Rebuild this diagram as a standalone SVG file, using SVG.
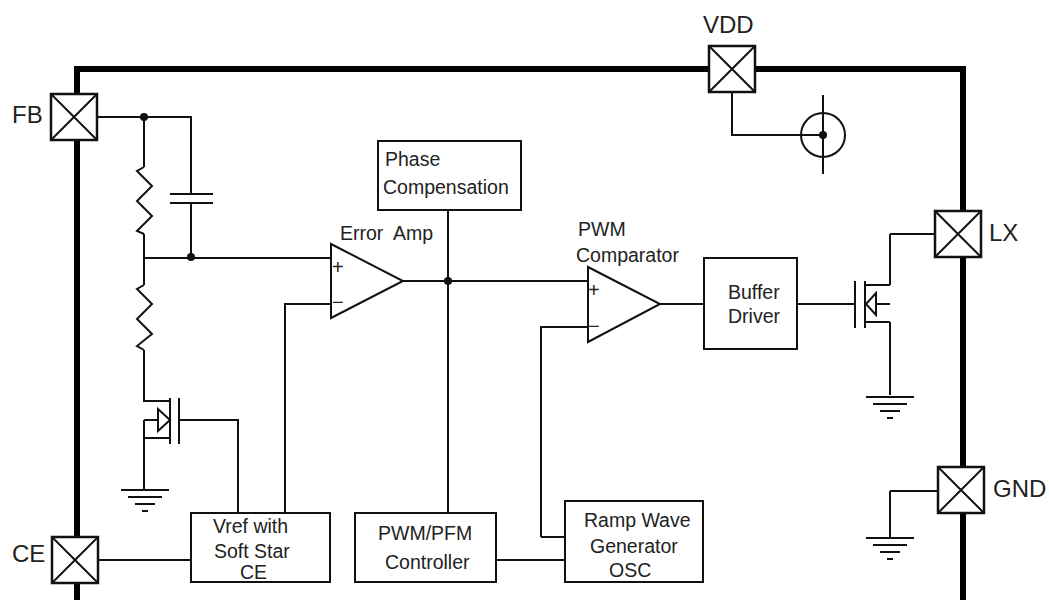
<svg xmlns="http://www.w3.org/2000/svg" width="1049" height="600" viewBox="0 0 1049 600">
<style>
.w{fill:none;stroke:#111;stroke-width:2}
.b{fill:#fff;stroke:#111;stroke-width:2}
.o{fill:none;stroke:#000;stroke-width:6}
.p{fill:#fff;stroke:#111;stroke-width:2.5}
.d{fill:#111}
text{font-family:"Liberation Sans",Arial,sans-serif;fill:#222;white-space:pre}
.l{font-size:24px}
.t{font-size:19.5px}
.s{font-size:20px}
</style>
<defs>
<g id="pad"><rect class="p" x="-23" y="-23" width="46" height="46"/><path class="w" d="M-23-23L23 23M23-23L-23 23"/></g>
<g id="gnd"><path class="w" d="M-24 0H24M-17 7H17M-10 14H10M-3 21H3"/></g>
</defs>
<rect width="1049" height="600" fill="#fff"/>
<g id="outline"><path class="o" d="M77 600V69H963V600"/></g>
<g id="connectors">
<path class="w" d="M97 117H191V194M191 203V257M144 117V167M144 234V285M144 350V401H170M144 258H331"/>
<path class="w" d="M179 420H238V513M285 513V304H331M403 281H587M448 210V513M660 304H704M797 304H855"/>
<path class="w" d="M541 537V327H587M496 560H565M541 537H565M99 560H191"/>
<path class="w" d="M732 92V135H822M144 420V489M890 234H934M890 234V285M890 322V395M890 491H938M890 491V537"/>
</g>
<g id="node-FB"><use href="#pad" x="74" y="117"/><text class="l" x="12" y="123">FB</text></g>
<g id="node-VDD"><use href="#pad" x="732" y="69"/><text class="l" x="703" y="33">VDD</text></g>
<g id="node-LX"><use href="#pad" x="958" y="234"/><text class="l" x="989" y="241">LX</text></g>
<g id="node-GND"><use href="#pad" x="961" y="490"/><text class="l" x="993" y="497">GND</text></g>
<g id="node-CE"><use href="#pad" x="75" y="560"/><text class="l" x="12" y="562">CE</text></g>
<g id="source-vdd"><circle class="w" cx="823" cy="135" r="22"/><path class="w" d="M823 95V174"/><circle class="d" cx="823" cy="135" r="4"/></g>
<g id="r1"><path class="w" d="M144 167L137 171L152 186L137 201L152 216L137 231L144 234"/></g>
<g id="r2"><path class="w" d="M144 285L137 289L152 304L137 319L152 334L137 346L144 350"/></g>
<g id="c1"><path class="w" d="M170 194H213M170 203H213"/></g>
<g id="j1" class="d"><circle cx="144" cy="117" r="4"/><circle cx="191" cy="257" r="4"/><circle cx="448" cy="281" r="4"/></g>
<g id="mos-ce"><path class="w" d="M170 398V444M179 398V444M144 401H170M144 438H170M144 420H158M158 409V431L170 420Z"/><use href="#gnd" x="145" y="490"/></g>
<g id="mos-lx"><path class="w" d="M855 281V328M865 281V328M865 285H890M865 322H890M876 304H890M876 293V315L866 304Z"/><use href="#gnd" x="890" y="397"/></g>
<use id="gnd-gnd" href="#gnd" x="890" y="538"/>
<g id="error-amp"><path class="b" d="M331 244L403 281L331 318Z"/><text class="s" x="332" y="274">+</text><text class="s" x="332" y="309">−</text><text class="t" x="340" y="240">Error  Amp</text></g>
<g id="pwm-comp"><path class="b" d="M588 267L660 304L588 342Z"/><text class="s" x="588" y="297">+</text><text class="s" x="588" y="333">−</text><text class="t" x="578" y="236">PWM</text><text class="t" x="576" y="262">Comparator</text></g>
<g id="phase"><rect class="b" x="378" y="141" width="143" height="69"/><text class="t" x="385" y="166">Phase</text><text class="t" x="383" y="194">Compensation</text></g>
<g id="buffer"><rect class="b" x="704" y="258" width="93" height="91"/><text class="t" x="728" y="299">Buffer</text><text class="t" x="728" y="323">Driver</text></g>
<g id="vref"><rect class="b" x="191" y="513" width="139" height="69"/><text class="t" x="213" y="533">Vref with</text><text class="t" x="214" y="558">Soft Star</text><text class="t" x="240" y="579">CE</text></g>
<g id="pwmpfm"><rect class="b" x="355" y="513" width="141" height="69"/><text class="t" x="378" y="540">PWM/PFM</text><text class="t" x="385" y="569">Controller</text></g>
<g id="ramp"><rect class="b" x="565" y="501" width="138" height="81"/><text class="t" x="584" y="527">Ramp Wave</text><text class="t" x="590" y="553">Generator</text><text class="t" x="609" y="577">OSC</text></g>
</svg>
